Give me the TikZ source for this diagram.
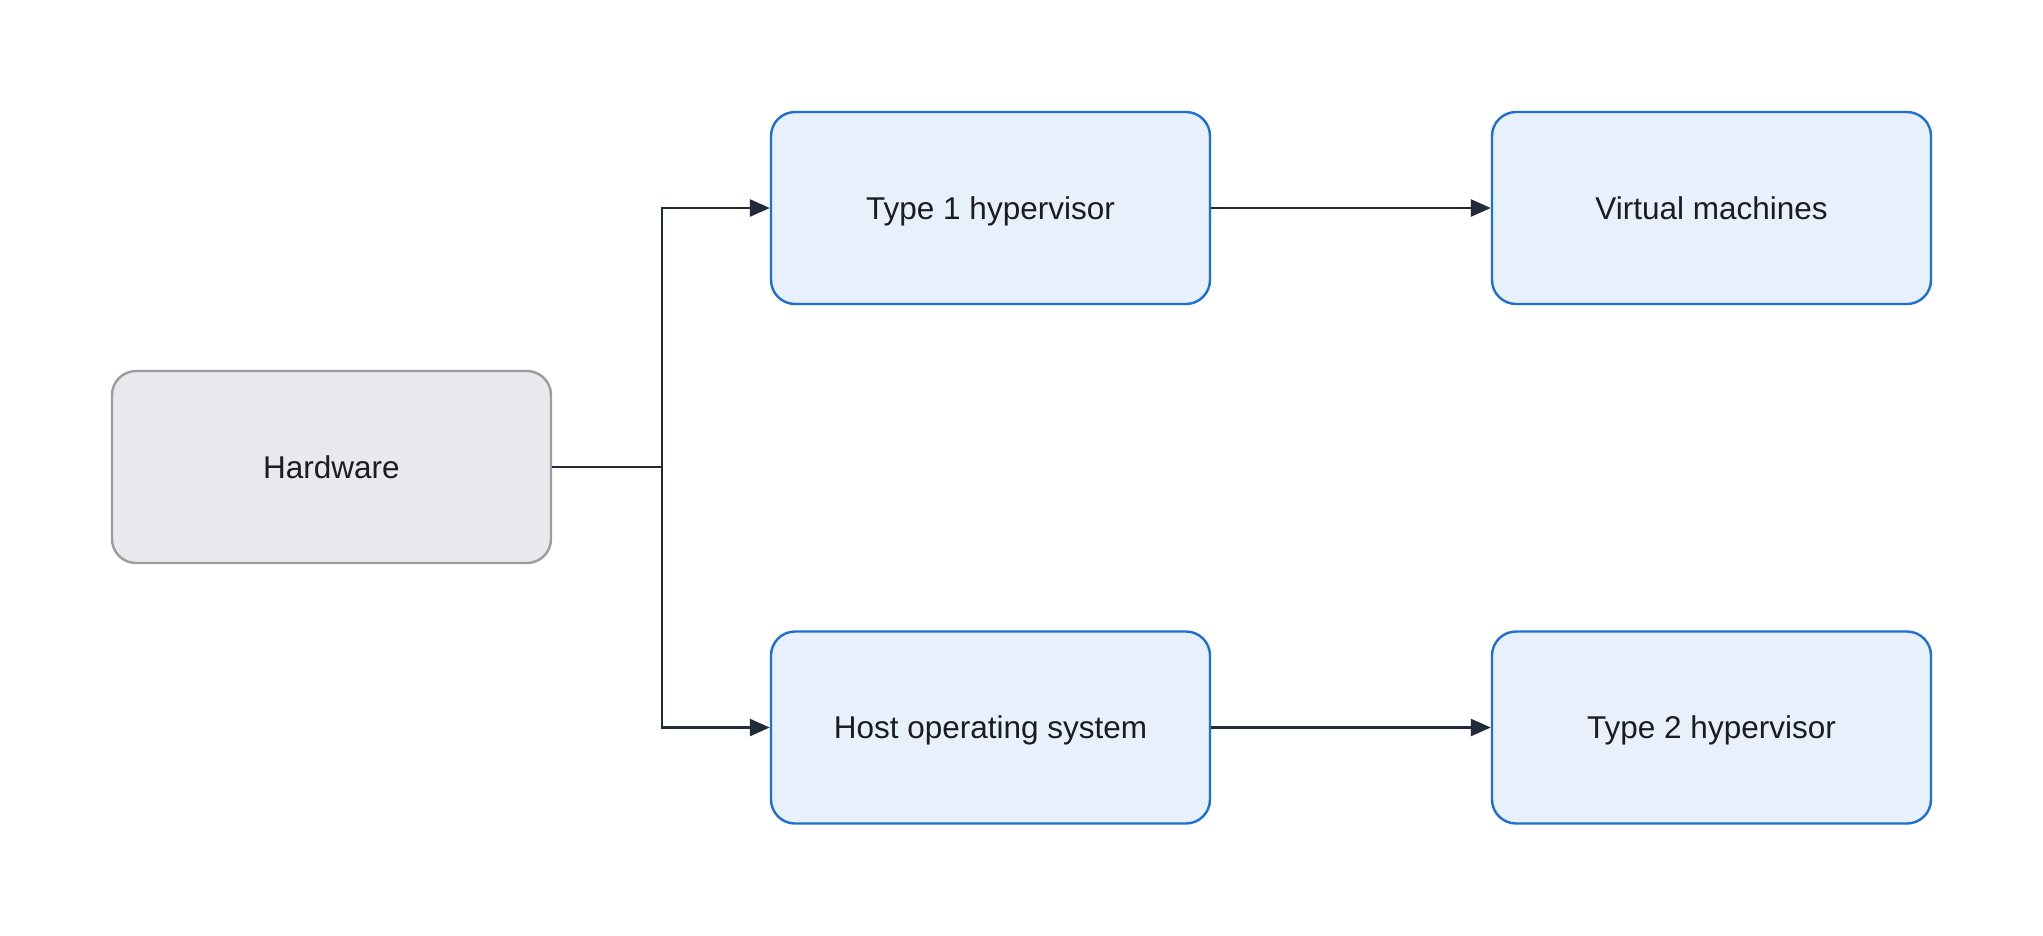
\documentclass[tikz,border=0pt]{standalone}
\usepackage{fontspec}
\setmainfont{Liberation Sans}
\usetikzlibrary{arrows.meta}
\definecolor{bluebd}{HTML}{1F6FD1}
\definecolor{bluefill}{HTML}{E8F0FC}
\definecolor{graybd}{HTML}{9A9CA0}
\definecolor{grayfill}{HTML}{E8E9EC}
\definecolor{linec}{HTML}{222B38}
\definecolor{textc}{HTML}{1A1C20}
\begin{document}
\begin{tikzpicture}[x=1pt,y=-1pt,
  box/.style={rectangle,rounded corners=24pt,minimum width=439pt,minimum height=192pt,
    line width=2.4pt,text=textc,font=\fontsize{31.5}{36}\selectfont,inner sep=0pt,
    text height=22.6pt,text depth=0pt},
  bluebox/.style={box,draw=bluebd,fill=bluefill},
  graybox/.style={box,draw=graybd,fill=grayfill},
  conn/.style={draw=linec,line width=2.6pt},
  arr/.style={conn,-{Triangle[length=20pt,width=17pt]}}]
\fill[white] (0,0) rectangle (2043,935);
\useasboundingbox (0,0) rectangle (2043,935);
\node[graybox] (hw) at (331.5,467) {Hardware};
\node[bluebox] (t1) at (990.5,208) {Type 1 hypervisor};
\node[bluebox] (vm) at (1711.5,208) {Virtual machines};
\node[bluebox] (os) at (990.5,727.5) {Host operating system};
\node[bluebox] (t2) at (1711.5,727.5) {Type 2 hypervisor};
\coordinate (br) at (662,467);
\draw[conn] (hw.east) -- (br);
\draw[arr] (br) |- (t1.west);
\draw[arr] (br) |- (os.west);
\draw[arr] (t1.east) -- (vm.west);
\draw[arr] (os.east) -- (t2.west);
\end{tikzpicture}
\end{document}
